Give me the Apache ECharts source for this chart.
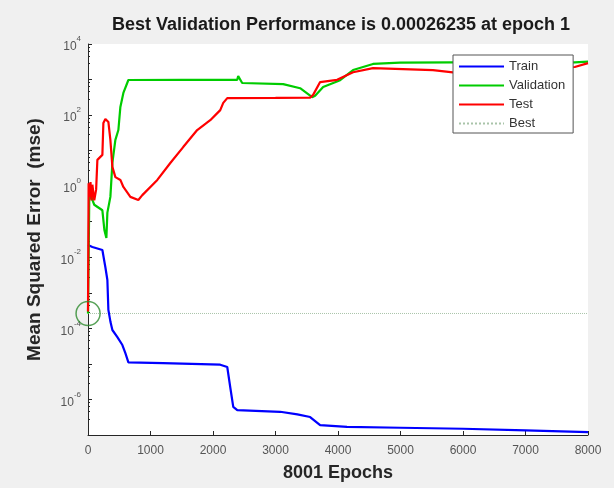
<!DOCTYPE html>
<html><head><meta charset="utf-8">
<script src="https://cdn.jsdelivr.net/npm/echarts@6/dist/echarts.min.js"></script>
<style>html,body{margin:0;padding:0;background:#f0f0f0}#c{width:614px;height:488px}</style>
</head><body><div id="c"></div>
<script>
const titleText = 'Best Validation Performance is 0.00026235 at epoch 1';
const xName = '8001 Epochs';
const yName = 'Mean Squared Error  (mse)';
const legendNames = ['Train', 'Validation', 'Test', 'Best'];
const xTicks = [0, 1000, 2000, 3000, 4000, 5000, 6000, 7000, 8000];
const yTickExponents = [-6, -4, -2, 0, 2, 4];
const bestEpoch = 1;
const bestValue = 0.00026235;

const train = [[0,0.022],[70,0.0195],[230,0.016],[250,0.010],[280,0.005],[310,0.0023],[326,3.3e-4],[360,1.5e-4],[390,9e-5],[470,5.7e-5],[550,3.4e-5],[598,2e-5],[646,1.1e-5],[1200,1.05e-5],[2116,9.5e-6],[2228,8.2e-6],[2276,2.2e-6],[2324,6.2e-7],[2388,5e-7],[3075,4.5e-7],[3350,3.8e-7],[3554,3.2e-7],[3714,1.9e-7],[4145,1.7e-7],[5000,1.6e-7],[6000,1.5e-7],[7000,1.35e-7],[8000,1.2e-7]];

const validation = [[0,2.6e-4],[1,2.6235e-4],[20,0.4],[40,0.6],[70,0.41],[100,0.3],[230,0.21],[262,0.059],[294,0.035],[310,0.18],[358,0.5],[390,4.5],[438,20],[486,38],[518,170],[566,420],[646,970],[1500,975],[2388,980],[2403,1250],[2467,800],[3123,745],[3394,570],[3586,320],[3634,350],[3762,620],[4034,960],[4241,1850],[4560,2750],[4992,3000],[5838,3050],[7000,3050],[7788,3050],[8000,3200]];

const test = [[0,3e-4],[10,1.2],[25,0.5],[40,1.3],[55,0.4],[70,1.1],[100,0.4],[130,0.8],[150,5.5],[230,7.6],[246,60],[278,78],[326,64],[358,20],[390,3.5],[438,1.8],[518,1.5],[566,0.95],[678,0.5],[805,0.41],[869,0.56],[1109,1.5],[1317,4.5],[1523,12.6],[1747,38],[1956,72],[2116,138],[2164,220],[2228,300],[3000,305],[3554,310],[3602,370],[3714,850],[3986,980],[4241,1600],[4560,2100],[5519,1850],[5838,1600],[7000,1800],[7788,2250],[8000,2900]];

const best = [[0,bestValue],[8000,bestValue]];

const chart = echarts.init(document.getElementById('c'), null, {renderer:'canvas'});
const tickColor = '#262626';
const labelColor = '#555555';
chart.setOption({
  backgroundColor: '#f0f0f0',
  animation: false,
  title: {
    text: titleText, left: 336, textAlign: 'center', top: 11,
    textStyle: {fontFamily: 'Liberation Sans', fontSize: 18, fontWeight: 'bold', color: '#1a1a1a'}
  },
  grid: {left: 88, right: 26, top: 44, bottom: 53, show: true, backgroundColor: '#ffffff', borderWidth: 0},
  legend: {
    data: legendNames, orient: 'vertical', left: 453, top: 55,
    backgroundColor: '#ffffff', borderColor: '#555555', borderWidth: 1,
    padding: [5, 8, 3, 5], itemWidth: 45, itemHeight: 14, itemGap: 6,
    itemStyle: {color: 'rgba(0,0,0,0)', borderWidth: 0, opacity: 0},
    textStyle: {fontFamily: 'Liberation Sans', fontSize: 13, color: '#333333'}
  },
  xAxis: {
    type: 'value', min: 0, max: 8000, interval: 1000,
    name: xName, nameLocation: 'middle', nameGap: 29,
    nameTextStyle: {fontFamily: 'Liberation Sans', fontSize: 18, fontWeight: 'bold', color: '#262626'},
    axisLine: {show: true, lineStyle: {color: tickColor, width: 1}},
    axisTick: {show: true, inside: true, length: 4, lineStyle: {color: tickColor}},
    axisLabel: {color: labelColor, fontFamily: 'Liberation Sans', fontSize: 12, margin: 10,
      formatter: function (v) { return xTicks.indexOf(v) >= 0 ? String(v) : ''; }},
    splitLine: {show: false}
  },
  yAxis: {
    type: 'log', logBase: 10, min: 1e-7, max: 1e4, interval: 1,
    name: yName, nameLocation: 'middle', nameGap: 44,
    nameTextStyle: {fontFamily: 'Liberation Sans', fontSize: 19, fontWeight: 'bold', color: '#262626'},
    axisLine: {show: true, lineStyle: {color: tickColor, width: 1}},
    axisTick: {show: true, inside: true, length: 4, lineStyle: {color: tickColor}},
    minorTick: {show: true, splitNumber: 5, length: 2, lineStyle: {color: tickColor}},
    axisLabel: {
      margin: 7,
      showMinLabel: false,
      formatter: function (v) {
        const l = Math.log10(v);
        const e = Math.round(l);
        if (Math.abs(l - e) > 1e-6 || yTickExponents.indexOf(e) < 0) return '';
        return '{b|10}{e|' + e + '}';
      },
      rich: {
        b: {fontFamily: 'Liberation Sans', fontSize: 12, color: labelColor, lineHeight: 18, verticalAlign: 'bottom'},
        e: {fontFamily: 'Liberation Sans', fontSize: 8, color: labelColor, lineHeight: 8, verticalAlign: 'top'}
      }
    },
    splitLine: {show: false}
  },
  series: [
    {name: 'Train', type: 'line', data: train, symbol: 'none', color: '#0000ff', lineStyle: {width: 2.2, color: '#0000ff'}, z: 2},
    {name: 'Validation', type: 'line', data: validation, symbol: 'none', color: '#00cc00', lineStyle: {width: 2.2, color: '#00cc00'}, z: 2},
    {name: 'Test', type: 'line', data: test, symbol: 'none', color: '#ff0000', lineStyle: {width: 2.2, color: '#ff0000'}, z: 3},
    {name: 'Best', type: 'line', data: best, symbol: 'none', color: '#a9c4a9', lineStyle: {width: 1, type: 'dotted', color: '#a9c4a9'}, z: 1},
    {name: 'BestPoint', type: 'scatter', data: [[bestEpoch, bestValue]], symbol: 'circle', symbolSize: 24,
     itemStyle: {color: 'rgba(0,0,0,0)', borderColor: '#2e8b2e', borderWidth: 1.5}, z: 4, silent: true}
  ]
});
</script>
</body></html>
